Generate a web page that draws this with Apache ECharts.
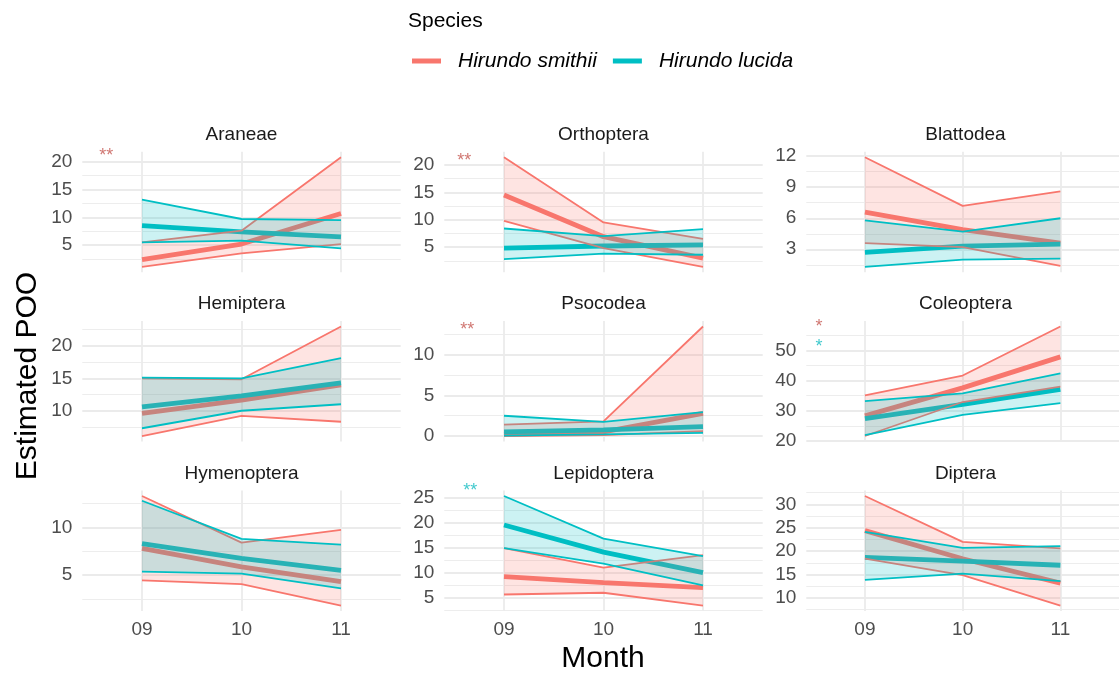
<!DOCTYPE html>
<html><head><meta charset="utf-8">
<script src="https://cdn.jsdelivr.net/npm/echarts@6/dist/echarts.min.js"></script>
<style>html,body{margin:0;padding:0;background:#fff}#c{width:1119px;height:680px}</style>
</head><body><div id="c"></div>
<script>
const months = ['09', '10', '11'];
const panels = ['Araneae', 'Orthoptera', 'Blattodea', 'Hemiptera', 'Psocodea', 'Coleoptera', 'Hymenoptera', 'Lepidoptera', 'Diptera'];
const speciesNames = ['Hirundo smithii', 'Hirundo lucida'];

const smithiiMean = [[2.4, 5.2, 10.7], [14.5, 6.9, 3.0], [6.6, 4.9, 3.6], [9.6, 11.65, 14.0], [0.2, 0.5, 2.8], [28.3, 37.6, 47.9], [7.8, 5.85, 4.3], [9.2, 8.0, 7.0], [24.4, 18.4, 13.2]];
const smithiiLower = [[1.1, 3.5, 5.2], [9.8, 4.8, 1.4], [3.6, 3.2, 1.4], [6.1, 9.2, 8.3], [0.0, 0.1, 0.6], [21.6, 32.9, 38.0], [4.45, 4.05, 1.8], [5.65, 6.0, 3.45], [18.4, 14.9, 8.4]];
const smithiiUpper = [[5.5, 7.6, 20.8], [21.4, 9.5, 6.5], [11.9, 7.2, 8.6], [15.0, 14.85, 23.0], [1.4, 1.8, 13.5], [35.1, 41.7, 58.0], [13.3, 8.4, 9.75], [14.9, 11.0, 13.5], [31.8, 22.0, 20.6]];
const lucidaMean = [[8.5, 7.4, 6.5], [4.8, 5.2, 5.4], [2.7, 3.3, 3.5], [10.6, 12.3, 14.3], [0.5, 0.75, 1.15], [27.4, 32.1, 37.1], [8.3, 6.75, 5.5], [19.5, 14.1, 10.0], [18.7, 17.9, 17.0]];
const lucidaLower = [[5.5, 5.8, 4.4], [2.8, 3.8, 3.6], [1.3, 2.0, 2.1], [7.3, 10.0, 11.0], [0.05, 0.2, 0.4], [21.9, 28.6, 32.5], [5.35, 5.15, 3.6], [14.9, 11.8, 7.45], [13.9, 15.2, 13.6]];
const lucidaUpper = [[13.2, 9.7, 9.5], [8.4, 7.0, 8.3], [5.8, 4.7, 6.0], [15.1, 15.0, 18.1], [2.5, 1.75, 2.95], [33.2, 35.8, 42.4], [12.8, 8.8, 8.2], [25.3, 16.8, 13.3], [24.15, 20.7, 21.1]];

const yTicks = [[5, 10, 15, 20], [5, 10, 15, 20], [3, 6, 9, 12], [10, 15, 20], [0, 5, 10], [20, 30, 40, 50], [5, 10], [5, 10, 15, 20, 25], [10, 15, 20, 25, 30]];

// significance marks: panel index, text, species index, x, y (data units)
const starPanel = [0, 1, 4, 5, 5, 7];
const starText = ['**', '**', '**', '*', '*', '**'];
const starSpecies = [0, 0, 0, 0, 1, 1];
const starX = [0.64, 0.6, 0.63, 0.53, 0.53, 0.66];
const starY = [21.8, 21.5, 13.5, 59, 52.5, 27.0];

const FONT = '"Liberation Sans", Arial, Helvetica, sans-serif';
const colors = ['#F8766D', '#00BFC4'];
const ribbonFills = ['rgba(248,118,109,0.2)', 'rgba(0,191,196,0.2)'];
const starColors = ['#c4554f', '#12bcc0'];
const colLeft = [82.3, 444.3, 806.3], colW = 318.4;
const rowTop = [151.8, 321, 490.5], rowH = 120.5;
const GRID = '#ebebeb';

const grids = [], xAxes = [], yAxes = [], series = [], graphics = [];
const xs = [1, 2, 3];
const pts = arr => arr.map((v, k) => [xs[k], v]);

panels.forEach((name, i) => {
  const r = Math.floor(i / 3), c = i % 3;
  grids.push({ left: colLeft[c], top: rowTop[r], width: colW, height: rowH, containLabel: false });
  const all = [].concat(smithiiMean[i], smithiiLower[i], smithiiUpper[i], lucidaMean[i], lucidaLower[i], lucidaUpper[i]);
  const lo = Math.min(...all), hi = Math.max(...all), pad = (hi - lo) * 0.05;
  const ymin = lo - pad, ymax = hi + pad;
  const ticks = yTicks[i], step = ticks[1] - ticks[0];
  const minors = [ticks[0] - step / 2].concat(ticks.map(t => t + step / 2)).filter(v => v >= ymin && v <= ymax);

  xAxes.push({
    type: 'value', gridIndex: i, min: 0.4, max: 3.6,
    axisLine: { show: false }, axisTick: { show: false }, splitLine: { show: false },
    axisLabel: { show: r === 2, customValues: xs, formatter: v => months[Math.round(v) - 1],
      color: '#4d4d4d', fontSize: 19, fontFamily: FONT, margin: 9 }
  });
  yAxes.push({
    type: 'value', gridIndex: i, min: ymin, max: ymax,
    axisLine: { show: false }, axisTick: { show: false }, splitLine: { show: false },
    axisLabel: { customValues: ticks, formatter: v => String(v), color: '#4d4d4d', fontSize: 19, fontFamily: FONT, margin: 10 }
  });

  const ml = [];
  minors.forEach(v => ml.push({ yAxis: v, lineStyle: { color: GRID, width: 0.9, type: 'solid' } }));
  ticks.forEach(v => ml.push({ yAxis: v, lineStyle: { color: GRID, width: 1.8, type: 'solid' } }));
  xs.forEach(v => ml.push({ xAxis: v, lineStyle: { color: GRID, width: 1.8, type: 'solid' } }));
  series.push({
    type: 'line', name: 'grid' + i, xAxisIndex: i, yAxisIndex: i, z: 1, silent: true,
    data: pts(lucidaMean[i]), symbol: 'none', lineStyle: { opacity: 0, width: 0 },
    markLine: { z: 1, silent: true, symbol: ['none', 'none'], animation: false, label: { show: false }, data: ml }
  });

  [smithiiMean, lucidaMean].forEach((m, s) => series.push({
    type: 'line', name: speciesNames[s], xAxisIndex: i, yAxisIndex: i, z: 2, silent: true,
    data: pts(m[i]), symbol: 'none', lineStyle: { color: colors[s], width: 4.8 }, itemStyle: { color: colors[s] }
  }));

  [[smithiiLower, smithiiUpper], [lucidaLower, lucidaUpper]].forEach((pair, s) => {
    const L = pair[0][i], U = pair[1][i];
    series.push({
      type: 'custom', name: 'ribbon' + s, xAxisIndex: i, yAxisIndex: i, z: 3 + 2 * s, silent: true,
      data: [[xs[0], L[0]]],
      renderItem: (params, api) => {
        const top = U.map((u, k) => api.coord([xs[k], u]));
        const bot = L.map((l, k) => api.coord([xs[k], l])).reverse();
        return { type: 'polygon', shape: { points: top.concat(bot) }, style: { fill: ribbonFills[s], stroke: null } };
      }
    });
    [L, U].forEach((arr, b) => series.push({
      type: 'line', name: (b ? 'upper' : 'lower') + s, xAxisIndex: i, yAxisIndex: i, z: 4 + 2 * s, silent: true,
      data: pts(arr), symbol: 'none', lineStyle: { color: colors[s], width: 1.8 }, itemStyle: { color: colors[s] }
    }));
  });

  graphics.push({ type: 'text', x: colLeft[c] + colW / 2, y: rowTop[r] - 17, silent: true,
    style: { text: name, align: 'center', verticalAlign: 'middle', fill: '#1a1a1a', font: '19px ' + FONT } });
});

starPanel.forEach((p, k) => series.push({
  type: 'scatter', name: 'star' + k, xAxisIndex: p, yAxisIndex: p, z: 9, clip: false, silent: true,
  symbolSize: 1, itemStyle: { color: 'rgba(0,0,0,0)' }, data: [[starX[k], starY[k]]],
  label: { show: true, formatter: starText[k], position: 'inside', offset: [0, 4],
    color: starColors[starSpecies[k]], fontSize: 18, fontFamily: FONT }
}));

graphics.push({ type: 'text', x: 408, y: 21, silent: true,
  style: { text: 'Species', align: 'left', verticalAlign: 'middle', fill: '#000', font: '21px ' + FONT } });
graphics.push({ type: 'text', x: 603, y: 659, silent: true,
  style: { text: 'Month', align: 'center', verticalAlign: 'middle', fill: '#000', font: '30px ' + FONT } });
graphics.push({ type: 'text', x: 28, y: 376, rotation: Math.PI / 2, silent: true,
  style: { text: 'Estimated POO', align: 'center', verticalAlign: 'middle', fill: '#000', font: '30px ' + FONT } });

const chart = echarts.init(document.getElementById('c'), null, { renderer: 'canvas' });
chart.setOption({
  animation: false,
  backgroundColor: '#fff',
  legend: {
    data: speciesNames, left: 412, top: 49, padding: 0, icon: 'rect', itemWidth: 29, itemHeight: 5, itemGap: 16,
    selectedMode: false,
    textStyle: { fontSize: 21, fontStyle: 'italic', fontFamily: FONT, color: '#000', padding: [0, 0, 0, 12], lineHeight: 24 }
  },
  grid: grids, xAxis: xAxes, yAxis: yAxes, series: series, graphic: graphics
});
</script></body></html>
